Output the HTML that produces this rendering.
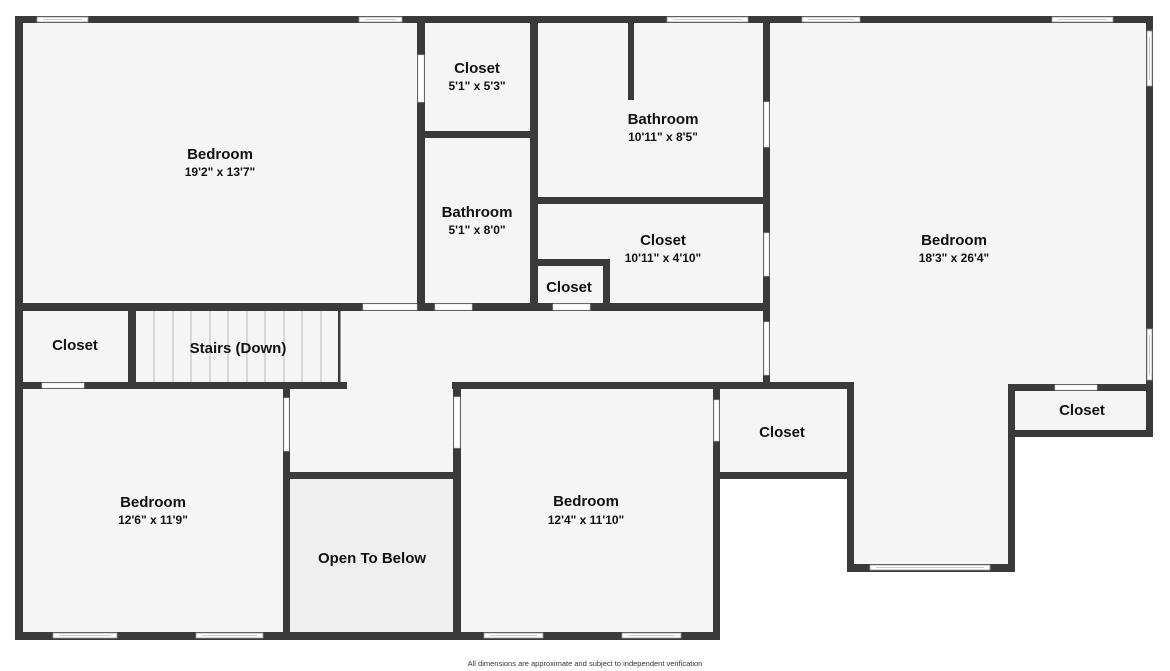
<!DOCTYPE html>
<html><head><meta charset="utf-8"><style>
html,body{margin:0;padding:0;background:#fff;}
svg{display:block;}
text{font-family:"Liberation Sans",sans-serif;fill:#111;text-anchor:middle;}
.n{font-size:15px;font-weight:bold;}
.d{font-size:12px;font-weight:bold;}
.w{fill:#fff;stroke:#9a9a9a;stroke-width:0.8;}
.dr{fill:#fff;stroke:#cfcfcf;stroke-width:0.6;}
</style></head><body>
<svg width="1170" height="671" viewBox="0 0 1170 671" xmlns="http://www.w3.org/2000/svg">
<rect width="1170" height="671" fill="#fff"/>
<!-- floor -->
<polygon points="15,16 1153,16 1153,437 1014,437 1014,572 847,572 847,479 720,479 720,640 15,640" fill="#f5f5f5"/>
<rect x="290" y="479" width="163" height="153" fill="#efefef"/>
<!-- stairs treads -->
<g stroke="#aaa" stroke-width="0.8">
<line x1="154" y1="311" x2="154" y2="382"/><line x1="173" y1="311" x2="173" y2="382"/><line x1="191" y1="311" x2="191" y2="382"/><line x1="210" y1="311" x2="210" y2="382"/><line x1="228" y1="311" x2="228" y2="382"/><line x1="247" y1="311" x2="247" y2="382"/><line x1="265" y1="311" x2="265" y2="382"/><line x1="284" y1="311" x2="284" y2="382"/><line x1="302" y1="311" x2="302" y2="382"/><line x1="321" y1="311" x2="321" y2="382"/>
</g>
<rect x="338" y="311" width="2.5" height="71" fill="#3a3a3a"/>
<g fill="#3a3a3a">
<!-- outer -->
<rect x="15" y="16" width="1138" height="7"/>
<rect x="15" y="16" width="8" height="624"/>
<rect x="15" y="632" width="705" height="8"/>
<rect x="1146" y="16" width="7" height="421"/>
<rect x="1008" y="384" width="145" height="7"/>
<rect x="1008" y="384" width="7" height="188"/>
<rect x="1008" y="430" width="145" height="7"/>
<rect x="847" y="382" width="7" height="190"/>
<rect x="847" y="564" width="167" height="8"/>
<rect x="713" y="472" width="141" height="7"/>
<rect x="713" y="382" width="7" height="258"/>
<rect x="452" y="382" width="402" height="7"/>
<rect x="453" y="382" width="8" height="258"/>
<rect x="283" y="472" width="178" height="7"/>
<rect x="283" y="382" width="7" height="258"/>
<!-- upper interior -->
<rect x="417" y="16" width="8" height="295"/>
<rect x="530" y="16" width="8" height="295"/>
<rect x="417" y="131" width="121" height="7"/>
<rect x="530" y="197" width="240" height="7"/>
<rect x="628" y="16" width="6" height="84"/>
<rect x="763" y="16" width="7" height="373"/>
<rect x="530" y="259" width="80" height="7"/>
<rect x="603" y="259" width="7" height="52"/>
<rect x="15" y="303" width="755" height="8"/>
<rect x="128" y="303" width="8" height="86"/>
<rect x="15" y="382" width="332" height="7"/>
</g>
<!-- doors -->
<rect class="dr" x="418" y="55" width="6" height="47"/>
<rect class="dr" x="363" y="304" width="54" height="6"/>
<rect class="dr" x="435" y="304" width="37" height="6"/>
<rect class="dr" x="553" y="304" width="37" height="6"/>
<rect class="dr" x="764" y="102" width="5" height="45"/>
<rect class="dr" x="764" y="233" width="5" height="43"/>
<rect class="dr" x="764" y="322" width="5" height="53"/>
<rect class="dr" x="42" y="383" width="42" height="5"/>
<rect class="dr" x="284" y="398" width="5" height="53"/>
<rect class="dr" x="454" y="397" width="6" height="51"/>
<rect class="dr" x="714" y="400" width="5" height="41"/>
<rect class="dr" x="1055" y="385" width="42" height="5"/>
<!-- windows -->
<g>
<rect class="w" x="37" y="17" width="51" height="5"/><line x1="43" y1="19.5" x2="82" y2="19.5" stroke="#999" stroke-width="0.6"/>
<rect class="w" x="359" y="17" width="43" height="5"/><line x1="365" y1="19.5" x2="396" y2="19.5" stroke="#999" stroke-width="0.6"/>
<rect class="w" x="667" y="17" width="81" height="5"/><line x1="673" y1="19.5" x2="742" y2="19.5" stroke="#999" stroke-width="0.6"/>
<rect class="w" x="802" y="17" width="58" height="5"/><line x1="808" y1="19.5" x2="854" y2="19.5" stroke="#999" stroke-width="0.6"/>
<rect class="w" x="1052" y="17" width="61" height="5"/><line x1="1058" y1="19.5" x2="1107" y2="19.5" stroke="#999" stroke-width="0.6"/>
<rect class="w" x="1147" y="31" width="5" height="55"/><line x1="1149.5" y1="37" x2="1149.5" y2="80" stroke="#999" stroke-width="0.6"/>
<rect class="w" x="1147" y="329" width="5" height="51"/><line x1="1149.5" y1="335" x2="1149.5" y2="374" stroke="#999" stroke-width="0.6"/>
<rect class="w" x="870" y="565" width="120" height="5"/><line x1="876" y1="567.5" x2="984" y2="567.5" stroke="#999" stroke-width="0.6"/>
<rect class="w" x="53" y="633" width="64" height="5"/><line x1="59" y1="635.5" x2="111" y2="635.5" stroke="#999" stroke-width="0.6"/>
<rect class="w" x="196" y="633" width="67" height="5"/><line x1="202" y1="635.5" x2="257" y2="635.5" stroke="#999" stroke-width="0.6"/>
<rect class="w" x="484" y="633" width="59" height="5"/><line x1="490" y1="635.5" x2="537" y2="635.5" stroke="#999" stroke-width="0.6"/>
<rect class="w" x="622" y="633" width="59" height="5"/><line x1="628" y1="635.5" x2="675" y2="635.5" stroke="#999" stroke-width="0.6"/>
</g>
<!-- labels -->
<text class="n" x="220" y="159">Bedroom</text><text class="d" x="220" y="176">19'2" x 13'7"</text>
<text class="n" x="477" y="73">Closet</text><text class="d" x="477" y="90">5'1" x 5'3"</text>
<text class="n" x="477" y="217">Bathroom</text><text class="d" x="477" y="234">5'1" x 8'0"</text>
<text class="n" x="663" y="124">Bathroom</text><text class="d" x="663" y="141">10'11" x 8'5"</text>
<text class="n" x="663" y="245">Closet</text><text class="d" x="663" y="262">10'11" x 4'10"</text>
<text class="n" x="569" y="292">Closet</text>
<text class="n" x="954" y="245">Bedroom</text><text class="d" x="954" y="262">18'3" x 26'4"</text>
<text class="n" x="75" y="350">Closet</text>
<text class="n" x="238" y="353">Stairs (Down)</text>
<text class="n" x="1082" y="415">Closet</text>
<text class="n" x="782" y="437">Closet</text>
<text class="n" x="153" y="507">Bedroom</text><text class="d" x="153" y="524">12'6" x 11'9"</text>
<text class="n" x="586" y="506">Bedroom</text><text class="d" x="586" y="524">12'4" x 11'10"</text>
<text class="n" x="372" y="563">Open To Below</text>
<text x="585" y="666" style="font-size:7.5px;fill:#333;">All dimensions are approximate and subject to independent verification</text>
</svg>
</body></html>
